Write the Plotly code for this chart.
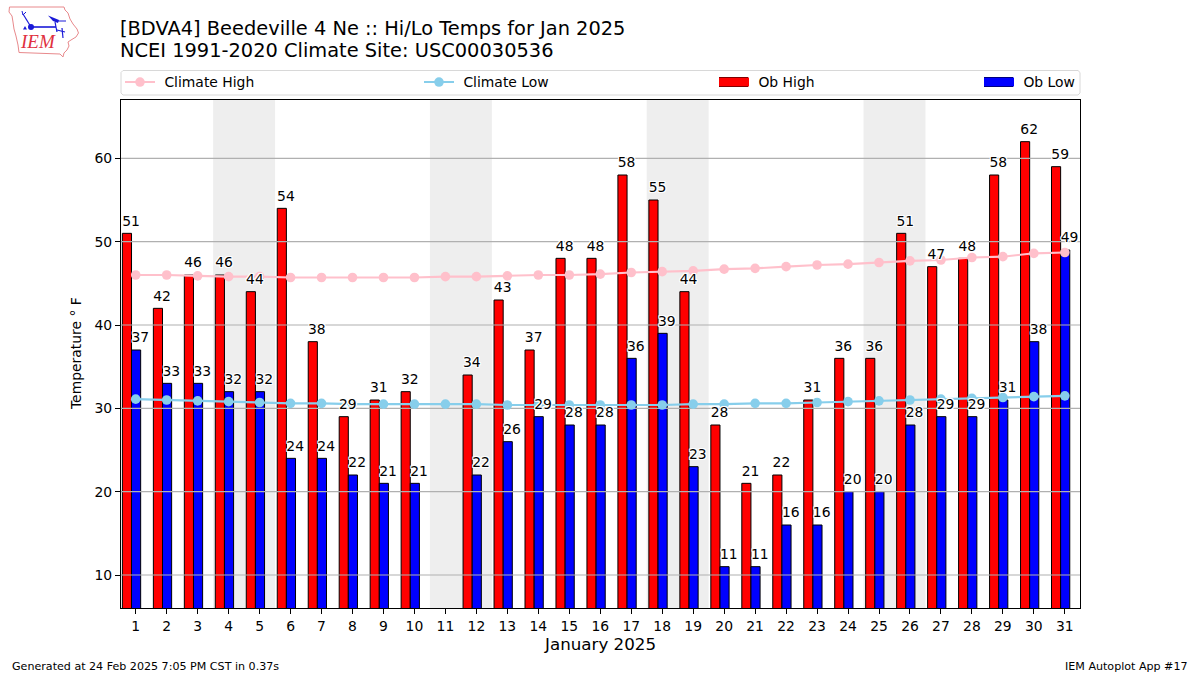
import plotly.graph_objects as go

W, H = 1200, 675
L, R, T, B = 121, 1080, 100, 608
FONT = "DejaVu Sans"

days = list(range(1, 32))
ob_high = [51, 42, 46, 46, 44, 54, 38, 29, 31, 32, None, 34, 43, 37, 48, 48, 58, 55, 44, 28, 21, 22, 31, 36, 36, 51, 47, 48, 58, 62, 59]
ob_low = [37, 33, 33, 32, 32, 24, 24, 22, 21, 21, None, 22, 26, 29, 28, 28, 36, 39, 23, 11, 11, 16, 16, 20, 20, 28, 29, 29, 31, 38, 49]
climate_high = [46.0, 46.0, 45.9, 45.8, 45.8, 45.7, 45.7, 45.7, 45.7, 45.7, 45.8, 45.8, 45.9, 46.0, 46.0, 46.1, 46.3, 46.4, 46.5, 46.7, 46.8, 47.0, 47.2, 47.3, 47.5, 47.7, 47.8, 48.1, 48.2, 48.6, 48.7]
climate_low = [31.1, 31.0, 30.9, 30.8, 30.7, 30.6, 30.6, 30.5, 30.5, 30.5, 30.5, 30.5, 30.4, 30.4, 30.4, 30.4, 30.4, 30.4, 30.5, 30.5, 30.6, 30.6, 30.7, 30.8, 30.9, 31.0, 31.1, 31.2, 31.3, 31.4, 31.5]
weekend_days = [4, 5, 11, 12, 18, 19, 25, 26]
y_ticks = [10, 20, 30, 40, 50, 60]

title_1 = "[BDVA4] Beedeville 4 Ne :: Hi/Lo Temps for Jan 2025"
title_2 = "NCEI 1991-2020 Climate Site: USC00030536"
footer_left = "Generated at 24 Feb 2025 7:05 PM CST in 0.37s"
footer_right = "IEM Autoplot App #17"
y_title = "Temperature ° F"
x_title = "January 2025"


def px(x):
    return (x - L) / (R - L)


def py(y):
    return (B - y) / (B - T)


def path(points, close=False):
    s = " ".join(("M" if i == 0 else "L") + f"{px(a):.5f},{py(b):.5f}" for i, (a, b) in enumerate(points))
    return s + (" Z" if close else "")


HALO = "1px 0 0 #fff,-1px 0 0 #fff,0 1px 0 #fff,0 -1px 0 #fff,1px 1px 0 #fff,-1px -1px 0 #fff,1px -1px 0 #fff,-1px 1px 0 #fff"

X_RANGE = [0.525, 31.49]
Y_RANGE = [6.04, 67.0]
HI_OFF, LO_OFF, BAR_W = -0.43, -0.135, 0.295
LABEL_LIFT = 0.5

fig = go.Figure()

fig.add_bar(x=days, y=ob_high, width=BAR_W, offset=HI_OFF, marker=dict(color="#ff0000", line=dict(color="black", width=1)), showlegend=False, name="Ob High")
fig.add_bar(x=days, y=ob_low, width=BAR_W, offset=LO_OFF, marker=dict(color="#0000ff", line=dict(color="black", width=1)), showlegend=False, name="Ob Low")

# gridlines sit above the bars in the reference
gx, gy = [], []
for v in y_ticks:
    gx += [X_RANGE[0], X_RANGE[1], None]
    gy += [v, v, None]
fig.add_scatter(x=gx, y=gy, mode="lines", line=dict(color="#b0b0b0", width=1.1), showlegend=False, hoverinfo="skip")

fig.add_scatter(x=days, y=climate_high, mode="lines+markers", name="\u00a0Climate High", line=dict(color="#ffc0cb", width=2.1), marker=dict(color="#ffc0cb", size=9.6), legend="legend")
fig.add_scatter(x=days, y=climate_low, mode="lines+markers", name="\u00a0Climate Low", line=dict(color="#87ceeb", width=2.1), marker=dict(color="#87ceeb", size=9.6), legend="legend2")

# legend-only entries for the bars: wide swatches like the reference
fig.add_scatter(x=[None], y=[None], mode="lines", name="\u00a0Ob High", line=dict(color="#ff0000", width=9), legend="legend3", hoverinfo="skip")
fig.add_scatter(x=[None], y=[None], mode="lines", name="\u00a0Ob Low", line=dict(color="#0000ff", width=9), legend="legend4", hoverinfo="skip")

label_font = dict(family=FONT, size=13.9, color="black", shadow=HALO)
fig.add_scatter(x=[d - 0.15 for d in days], y=[None if v is None else v + LABEL_LIFT for v in ob_high], mode="text", text=[("" if v is None else str(v)) for v in ob_high], textposition="top center", textfont=label_font, showlegend=False, hoverinfo="skip")
fig.add_scatter(x=[d + 0.15 for d in days], y=[None if v is None else v + LABEL_LIFT for v in ob_low], mode="text", text=[("" if v is None else str(v)) for v in ob_low], textposition="top center", textfont=label_font, showlegend=False, hoverinfo="skip")

shapes = []
for d in weekend_days[::2]:
    shapes.append(dict(type="rect", xref="x", yref="paper", x0=d - 0.5, x1=d + 1.5, y0=0, y1=1, fillcolor="#eeeeee", line=dict(width=0), layer="below"))

# legend frame and bar swatch edges
shapes.append(dict(type="path", xref="paper", yref="paper", path=path([(123, 70.5), (1078, 70.5), (1080, 72.5), (1080, 93), (1078, 95), (123, 95), (121, 93), (121, 72.5)], True), line=dict(color="#d8d8d8", width=1), fillcolor="white", layer="below"))
for x0 in (719, 984):
    shapes.append(dict(type="rect", xref="paper", yref="paper", x0=px(x0), x1=px(x0 + 29), y0=py(87), y1=py(77), fillcolor="black", line=dict(width=0), layer="below"))

# logo
LOGO_RED = "#e8898c"
LOGO_BLUE = "#1a1ad8"
iowa = [(9.5, 7), (64, 7), (65, 10), (68, 13), (70, 19), (73, 24), (77, 29), (78.5, 33), (76, 37), (71, 40), (68, 42), (69, 46), (67, 50), (64, 53), (63, 57), (60, 54), (19, 52.5), (18, 45), (16, 36), (14, 29), (13, 22), (12, 16), (9, 12)]
shapes.append(dict(type="path", xref="paper", yref="paper", path=path(iowa, True), line=dict(color=LOGO_RED, width=1), fillcolor="white"))
for seg, w in (([(31, 27), (56, 27)], 1.6), ([(31, 27), (23, 14)], 1.2), ([(22, 11), (23, 15), (26, 12)], 1), ([(55, 22), (57, 32)], 1.2), ([(57, 30), (65, 32)], 1.2), ([(62, 28), (63, 38)], 1.2), ([(58, 21), (66, 21)], 1)):
    shapes.append(dict(type="path", xref="paper", yref="paper", path=path(seg), line=dict(color=LOGO_BLUE, width=w)))
shapes.append(dict(type="path", xref="paper", yref="paper", path=path([(48, 15.5), (59, 20), (58, 23), (53, 21)], True), fillcolor=LOGO_BLUE, line=dict(width=0)))
shapes.append(dict(type="path", xref="paper", yref="paper", path=path([(23, 29.5), (27, 29.5), (25, 26)], True), fillcolor=LOGO_BLUE, line=dict(width=0)))
shapes.append(dict(type="circle", xref="paper", yref="paper", x0=px(28), x1=px(34), y0=py(30), y1=py(24), fillcolor=LOGO_BLUE, line=dict(width=0)))

annotations = [
    dict(text=title_1, x=px(118), y=py(38.5), size=19.4, xanchor="left"),
    dict(text=title_2, x=px(118), y=py(60.5), size=19.4, xanchor="left"),
    dict(text=x_title, x=px(600), y=py(652), size=16.7, xanchor="center"),
    dict(text=footer_left, x=px(10), y=py(671), size=11.1, xanchor="left"),
    dict(text=footer_right, x=px(1190), y=py(671), size=11.1, xanchor="right"),
]
ann = [dict(xref="paper", yref="paper", text=a["text"], x=a["x"], y=a["y"], xanchor=a["xanchor"], yanchor="bottom", yshift=-4, showarrow=False, font=dict(family=FONT, size=a["size"], color="black")) for a in annotations]
ann.append(dict(xref="paper", yref="paper", text="<i>IEM</i>", x=px(37.5), y=py(54), xanchor="center", yanchor="bottom", showarrow=False, font=dict(family="Liberation Serif", size=19, color="#e03040")))
ann.append(dict(xref="paper", yref="paper", text=y_title, x=px(76), y=py(354), xanchor="center", yanchor="middle", textangle=-90, showarrow=False, font=dict(family=FONT, size=13.9, color="black")))

axis_common = dict(showline=True, linecolor="black", linewidth=1.1, mirror=True, ticks="outside", ticklen=5, tickwidth=1.1, tickcolor="black", zeroline=False, tickfont=dict(family=FONT, size=13.9, color="black"))


def legend_at(x):
    return dict(x=px(x), y=py(82.5), xanchor="left", yanchor="middle", bgcolor="rgba(0,0,0,0)", borderwidth=0, font=dict(family=FONT, size=13.9, color="black"), itemclick=False, itemdoubleclick=False)


fig.update_layout(
    width=W, height=H, autosize=False,
    margin=dict(l=L, r=W - R, t=T, b=H - B, pad=0),
    paper_bgcolor="white", plot_bgcolor="rgba(0,0,0,0)",
    barmode="overlay",
    font=dict(family=FONT),
    xaxis=dict(range=X_RANGE, tickmode="array", tickvals=days, ticktext=[str(d) for d in days], showgrid=False, **axis_common),
    yaxis=dict(range=Y_RANGE, tickmode="array", tickvals=y_ticks, ticktext=[str(v) for v in y_ticks], showgrid=False, **axis_common),
    legend=legend_at(120), legend2=legend_at(419), legend3=legend_at(714), legend4=legend_at(979),
    shapes=shapes, annotations=ann,
)

fig.write_html("out.html", config={"displayModeBar": False}, post_script="document.body.style.margin='0';")
